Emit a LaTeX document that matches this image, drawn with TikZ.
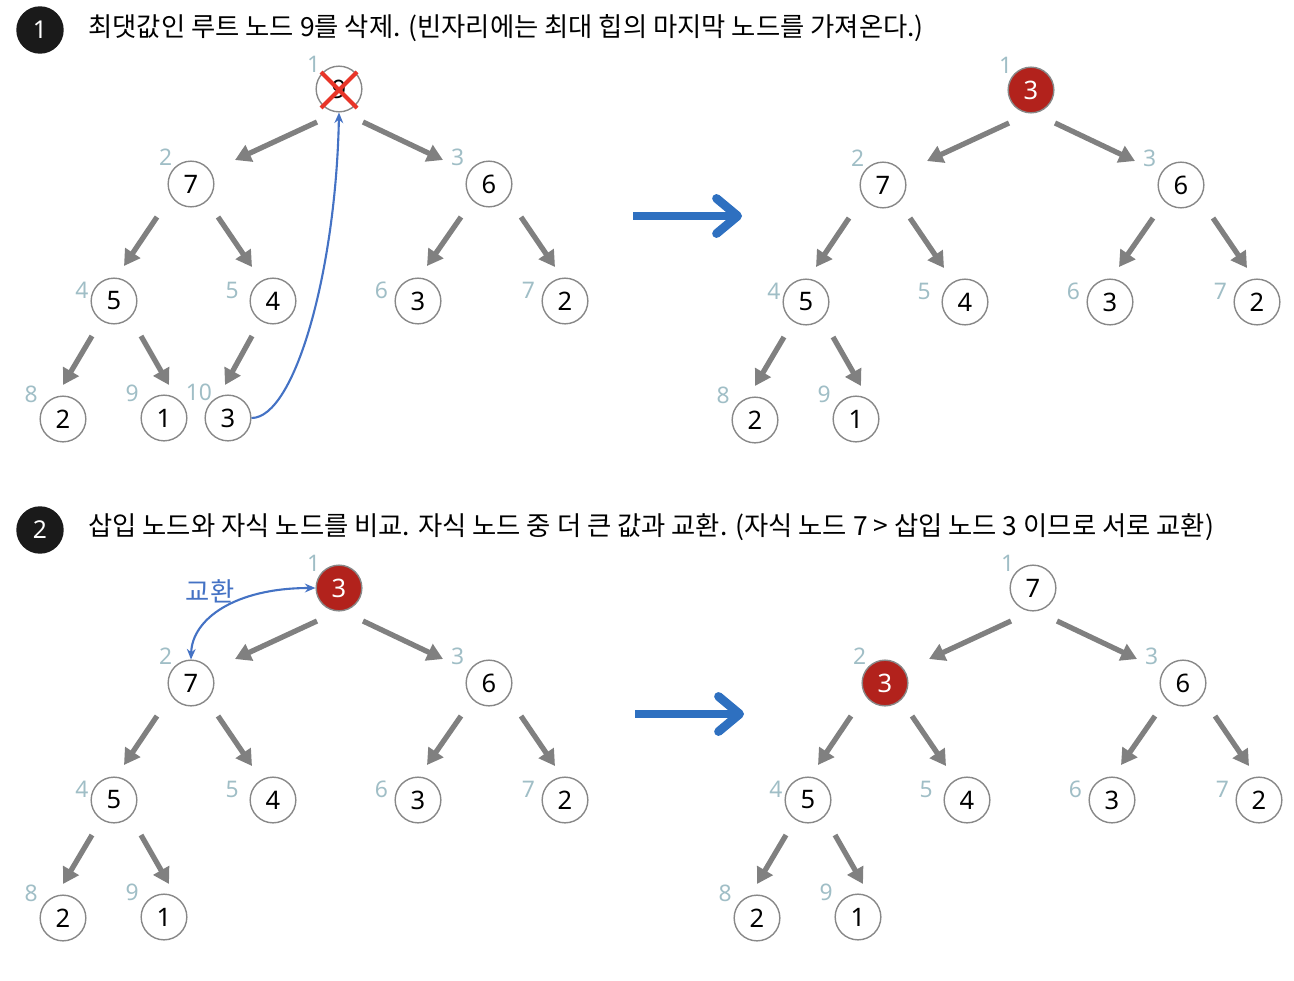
\documentclass[tikz,border=0pt]{standalone}
\usepackage{fontspec}
\setmainfont{Noto Sans}
\newfontfamily\kr{Noto Sans CJK KR}
\usepackage{xcolor}
\usepackage{tikz}
\usetikzlibrary{arrows.meta}
\definecolor{nodeline}{RGB}{136,136,136}
\definecolor{edgegray}{RGB}{128,128,128}
\definecolor{idxc}{RGB}{160,190,198}
\definecolor{hotred}{RGB}{178,34,28}
\definecolor{swapblue}{RGB}{68,114,196}
\definecolor{bigblue}{RGB}{46,112,192}
\definecolor{xred}{RGB}{232,53,40}
\tikzset{
  hn/.style={circle,draw=nodeline,line width=0.8pt,minimum size=26pt,inner sep=0pt,font=\fontsize{14.5}{14.5}\selectfont},
  hot/.style={fill=hotred,text=white},
  idx/.style={text=idxc,font=\fontsize{13}{13}\selectfont,inner sep=1pt},
  ed/.style={draw=edgegray,line width=3pt,-{Triangle[length=9pt,width=10pt]}},
  stepc/.style={circle,fill={rgb,255:red,26;green,26;blue,26},text=white,minimum size=27pt,inner sep=0pt,font=\fontsize{14}{14}\selectfont},
  head/.style={anchor=west,inner sep=0pt,font=\kr\fontsize{15}{17}\selectfont},
  xmark/.style={draw=xred,line width=2.3pt},
  move/.style={draw=swapblue,line width=1.2pt},
  big/.style={draw=bigblue,line width=5pt,-{Straight Barb[length=12pt,width=20pt,round]}}
}
\newcommand{\heaprest}[1]{%
  \node[hn,label={[idx,xshift=-2pt,yshift=-1.5pt,label distance=2pt]135:3}] (#1n3) at (489,184) {6};
  \node[hn,label={[idx,yshift=6pt,label distance=0pt]left:4}] (#1n4) at (114,301) {5};
  \node[hn,label={[idx,yshift=6pt,label distance=5pt]left:5}] (#1n5) at (273,301) {4};
  \node[hn,label={[idx,yshift=6pt,label distance=2.5pt]left:6}] (#1n6) at (418,301) {3};
  \node[hn,label={[idx,yshift=6pt,label distance=2.5pt]left:7}] (#1n7) at (565,301) {2};
  \node[hn,label={[idx,xshift=-3pt,yshift=-2pt,label distance=1pt]135:8}] (#1n8) at (63,419) {2};
  \node[hn,label={[idx,xshift=-3pt,yshift=-2pt,label distance=1pt]135:9}] (#1n9) at (164,418) {1};
  \foreach \a/\b/\sx/\sy/\ex/\ey in {1/2/-22/33/44/-24,1/3/24/33/-46/-24,2/4/-34/33/10/-35,2/5/27/33/-21/-34,
      3/6/-28/33/9/-35,3/7/32/33/-10/-34,4/8/-22/35/0/-34,4/9/27/35/5/-33}
    \draw[ed] ([shift={(\sx,\sy)}]#1n\a.center) -- ([shift={(\ex,\ey)}]#1n\b.center);
}

\begin{document}
\begin{tikzpicture}[x=0.02cm,y=-0.02cm]
\useasboundingbox (0,0) rectangle (1294,980);
% step 1: remove root
\node[stepc] (s1) at (40,30) {1};
\node[head] (h1) at (88,28) {최댓값인 루트 노드 9를 삭제. (빈자리에는 최대 힙의 마지막 노드를 가져온다.)};
\node[hn,label={[idx,yshift=-1pt]135:1}] (an1) at (339,89) {9};
\node[hn,label={[idx]135:2}] (an2) at (191,184) {7};
\heaprest{a}
\node[hn,label={[idx,xshift=1.5pt,yshift=-1pt]135:10}] (an10) at (228,418) {3};
\draw[ed] ([shift={(-21,35)}]an5.center) -- ([shift={(-3,-33)}]an10.center);
\draw[xmark] ([shift={(-18,-17)}]an1.center) -- ([shift={(18,19)}]an1.center);
\draw[xmark] ([shift={(18,-17)}]an1.center) -- ([shift={(-18,19)}]an1.center);
\draw[move,-{Stealth[length=6pt,width=5pt]}] (an10.east) .. controls (295,418) and (336,270) .. (an1.south);
\coordinate (g1s) at (633,216); \coordinate (g1e) at (742,216);
\draw[big] (g1s) -- (g1e);
\begin{scope}[shift={(692,1)}]
\node[hn,hot,label={[idx,yshift=-1pt]135:1}] (bn1) at (339,89) {3};
\node[hn,label={[idx]135:2}] (bn2) at (191,184) {7};
\heaprest{b}
\end{scope}
% step 2: swap with larger child
\node[stepc] (s2) at (40,530) {2};
\node[head] (h2) at (88,527) {삽입 노드와 자식 노드를 비교. 자식 노드 중 더 큰 값과 교환. (자식 노드 7 > 삽입 노드 3 이므로 서로 교환)};
\begin{scope}[shift={(0,499)}]
\node[hn,hot,label={[idx,yshift=-1pt]135:1}] (cn1) at (339,89) {3};
\node[hn,label={[idx]135:2}] (cn2) at (191,184) {7};
\heaprest{c}
\node[text=swapblue,font=\kr\fontsize{15}{17}\selectfont] (swp) at (210,92) {교환};
\draw[move,{Stealth[length=6pt,width=5pt]}-{Stealth[length=6pt,width=5pt]}] (cn2.north) .. controls (192,120) and (235,89) .. (cn1.west);
\end{scope}
\coordinate (g2s) at (635,714); \coordinate (g2e) at (744,714);
\draw[big] (g2s) -- (g2e);
\begin{scope}[shift={(694,499)}]
\node[hn,label={[idx,yshift=-1pt]135:1}] (dn1) at (339,89) {7};
\node[hn,hot,label={[idx]135:2}] (dn2) at (191,184) {3};
\heaprest{d}
\end{scope}
\end{tikzpicture}
\end{document}
